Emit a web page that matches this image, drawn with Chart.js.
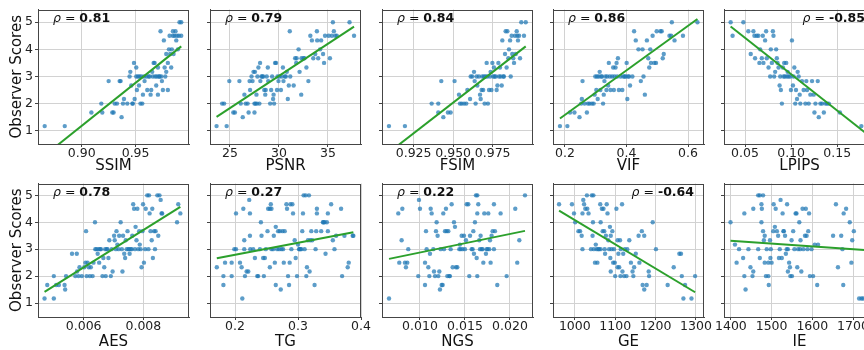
<!DOCTYPE html>
<html>
<head>
<meta charset="utf-8">
<script src="https://cdn.jsdelivr.net/npm/chart.js@4.4.0/dist/chart.umd.min.js"></script>
<style>
  html, body { margin: 0; padding: 0; background: #fff; overflow: hidden; }
  #wrap { position: relative; width: 864px; height: 350px; overflow: hidden; }
  #wrap canvas { position: absolute; }
</style>
</head>
<body>
<div id="wrap"></div>
<script>
// Observer scores vs. metric, one [metric, score] pair per image
const ssimPts = [[0.8657,1.17],[0.8843,1.17],[0.909,1.67],[0.9182,2],[0.9191,1.67],[0.925,2.83],[0.9284,1.67],[0.9296,1.67],[0.9306,2],[0.9327,2],[0.9352,2.83],[0.9361,2.83],[0.937,1.5],[0.9383,2],[0.9392,2.17],[0.9423,2],[0.9444,3],[0.9451,3.17],[0.946,2.67],[0.9469,2],[0.9475,2],[0.9485,3.5],[0.9491,2.17],[0.9506,3.33],[0.9506,3],[0.9512,2.5],[0.9522,3],[0.9531,2.67],[0.9537,3],[0.9545,2],[0.9552,3],[0.9562,2],[0.9568,2.33],[0.9577,3],[0.9583,2.83],[0.9599,3],[0.9608,2.5],[0.962,3],[0.963,3],[0.9639,2.33],[0.9645,2.5],[0.9654,3.17],[0.966,3],[0.9667,3.5],[0.9676,3.5],[0.9682,3],[0.9691,2.67],[0.9698,3],[0.9707,3.33],[0.9707,2.33],[0.9716,3],[0.9722,3],[0.9731,4.67],[0.9738,3],[0.9744,2.83],[0.9753,2.5],[0.9762,4.33],[0.9769,3.33],[0.9775,3],[0.9784,3.83],[0.9784,3.17],[0.9799,3.5],[0.9799,2.5],[0.9809,4],[0.9815,4.5],[0.9821,3.83],[0.983,3.33],[0.9836,4],[0.9846,4.5],[0.9846,4.67],[0.9852,3.83],[0.9861,4.5],[0.987,4.67],[0.9877,4.33],[0.9883,4.5],[0.9892,4],[0.9901,4.5],[0.9907,5],[0.9923,5],[0.9923,4.5]];
const psnrPts = [[23.63,1.17],[24.66,1.17],[24.2,2],[24.4,2],[24.93,2.83],[25.34,1.67],[25.5,1.67],[25.96,2.83],[26.1,2],[26.3,1.5],[26.47,2.33],[26.6,2],[26.8,2],[26.9,1.67],[27.0,2.83],[27.05,2.5],[27.2,3],[27.3,2.83],[27.4,3.17],[27.5,2],[27.6,2],[27.5,1.67],[27.55,3.17],[27.7,2.33],[27.75,2],[27.8,3],[27.9,3.33],[28.0,2],[28.07,3.5],[28.1,2.83],[28.2,3],[28.3,3],[28.4,3],[28.5,2.5],[28.6,2.33],[28.65,2.5],[28.75,3],[28.86,3.33],[28.9,2.83],[29.1,2],[29.2,2.5],[29.3,3],[29.4,2.17],[29.45,2.33],[29.5,2],[29.6,3.5],[29.7,3.5],[29.8,2.5],[29.85,3],[29.95,2.83],[30.05,3],[30.2,2.5],[30.3,3],[30.4,3.33],[30.46,2.83],[30.6,3],[30.7,3],[30.8,3.17],[30.9,2.17],[31.0,2.67],[31.1,4.67],[31.15,3],[31.5,2.67],[31.65,3.67],[31.76,3.5],[31.8,3.67],[32.0,4],[32.1,3.17],[32.27,2.33],[32.3,3.67],[32.5,3.67],[32.6,3.67],[32.8,3.33],[33.0,2.83],[33.2,4.5],[33.36,4.33],[33.5,3.67],[33.7,3.83],[33.87,4.67],[33.9,4.33],[34.0,3.67],[34.2,4],[34.3,4.33],[34.5,3.83],[34.6,3.5],[34.7,4.5],[35.07,4.5],[35.2,3.67],[35.4,4.5],[35.5,5],[35.6,4.67],[35.75,4.5],[35.9,4.5],[37.2,5],[37.66,4.5]];
const fsimPts = [[0.9094,1.17],[0.9195,1.17],[0.9364,2],[0.9406,2],[0.9406,1.67],[0.9425,2.83],[0.9438,1.5],[0.9467,1.67],[0.9484,1.67],[0.9509,2.83],[0.9537,2.33],[0.9543,2],[0.9554,2],[0.9569,2],[0.9583,2],[0.959,2.5],[0.9607,2.17],[0.9611,3],[0.9621,3],[0.9632,3.17],[0.9636,2.83],[0.9642,2],[0.9648,3],[0.9653,2.67],[0.9663,3],[0.967,2.33],[0.9674,2.17],[0.968,2.5],[0.9684,3],[0.969,2.5],[0.9695,3],[0.9699,2],[0.9705,3],[0.9712,3.5],[0.9716,3],[0.972,2],[0.9727,2.5],[0.9733,3],[0.9737,3.17],[0.9742,2.5],[0.9748,3.5],[0.9754,3],[0.9758,3.33],[0.9762,3],[0.9769,3],[0.9775,2.5],[0.978,2.67],[0.9786,3.5],[0.979,3],[0.9796,3.33],[0.98,3],[0.9807,2.67],[0.9811,4.33],[0.9817,3],[0.9821,3],[0.9828,3.83],[0.9832,4.67],[0.9838,3.33],[0.9843,4.67],[0.9849,3.67],[0.9853,4],[0.986,4.33],[0.9864,3],[0.987,4.5],[0.9874,3.83],[0.988,3.67],[0.9885,3.5],[0.9891,4.5],[0.9896,3.83],[0.9902,4.67],[0.9906,4.5],[0.991,4.33],[0.9917,4.5],[0.9923,3.67],[0.9931,5],[0.9948,4.5],[0.9959,5]];
const vifPts = [[0.1836,1.17],[0.2077,1.17],[0.2164,1.67],[0.2307,1.67],[0.2471,1.5],[0.2526,2],[0.2548,2.17],[0.257,2.83],[0.2636,2],[0.2712,1.67],[0.2745,2],[0.28,2],[0.2877,2],[0.2932,2],[0.2964,2.33],[0.2986,3],[0.3019,2.5],[0.3041,3],[0.3063,2.17],[0.3096,3],[0.3129,3.17],[0.3151,2.5],[0.3173,3],[0.3205,3],[0.3238,2],[0.326,2.33],[0.3282,2.83],[0.3315,3],[0.3348,2.5],[0.337,3],[0.3403,2.67],[0.3425,3.5],[0.3458,3],[0.348,2.5],[0.3534,3],[0.3567,3.33],[0.3589,2.5],[0.3611,3],[0.3644,3.33],[0.3677,3.5],[0.3699,3],[0.3721,3.67],[0.3753,2.5],[0.3808,3],[0.3863,2.5],[0.3896,3],[0.394,3],[0.3973,3],[0.4005,3.5],[0.4027,2.17],[0.4049,3],[0.4082,3],[0.4115,2.67],[0.4192,3],[0.4247,4.67],[0.4301,4.33],[0.4389,4],[0.4466,2.83],[0.4521,4],[0.4553,3],[0.4597,2.33],[0.4663,4.33],[0.4707,3.67],[0.474,3.33],[0.4773,4],[0.4795,3.5],[0.4849,4.5],[0.4904,3.5],[0.4959,3.5],[0.4981,4.67],[0.5101,4.67],[0.5145,4.67],[0.5178,3.67],[0.5211,3.83],[0.5397,4.5],[0.5452,4.5],[0.5474,5],[0.5562,4.33],[0.5836,4.5],[0.6307,5]];
const lpipsPts = [[0.0344,5],[0.0365,4.5],[0.0482,5],[0.0536,4.67],[0.0562,3.83],[0.0591,4.67],[0.0602,4.5],[0.0609,3.67],[0.0627,4.5],[0.0645,4.5],[0.0656,3.5],[0.0664,4],[0.0682,3.67],[0.0693,4.5],[0.07,3.5],[0.0718,4.33],[0.0729,4.67],[0.0736,3.67],[0.0755,3.33],[0.0773,3],[0.078,4],[0.0791,3.5],[0.0802,4.67],[0.0809,4.5],[0.0816,3],[0.0827,3.17],[0.0838,4],[0.0845,3.67],[0.0853,3.5],[0.0864,3.33],[0.0875,2.67],[0.0882,3],[0.0889,2.5],[0.09,2],[0.0911,3.33],[0.0918,3],[0.0925,3.5],[0.0933,3],[0.0947,3.5],[0.0955,3],[0.0962,3.17],[0.0973,3],[0.0991,3],[0.0998,2.5],[0.1009,4.33],[0.102,2.67],[0.1027,3],[0.1035,3.33],[0.1045,2],[0.1053,2.5],[0.1064,2.17],[0.1071,3.17],[0.1082,3],[0.1093,2.33],[0.11,2],[0.1118,2.83],[0.1136,2.5],[0.1155,2],[0.1165,2.83],[0.1173,2.5],[0.1191,2],[0.1209,2.33],[0.1227,2.83],[0.1245,2.33],[0.1253,1.67],[0.1264,2],[0.1289,2.83],[0.13,1.5],[0.1318,2],[0.1336,2],[0.1355,1.67],[0.1373,2],[0.1391,2],[0.1409,2],[0.1529,1.67],[0.1762,1.17],[0.1836,1.17]];
const aesPts = [[0.004689,1.17],[0.00478,1.67],[0.0050,2],[0.0050,1.17],[0.00508,1.67],[0.00517,1.67],[0.00536,1.67],[0.00538,1.5],[0.00541,2],[0.00561,2.83],[0.00572,2],[0.00577,2.83],[0.00578,2.17],[0.00583,2],[0.00586,2.33],[0.00594,2],[0.00602,2.33],[0.00606,2.5],[0.00608,3.67],[0.0061,2],[0.00613,2.5],[0.00617,2.33],[0.00621,2],[0.00624,2.33],[0.0063,2],[0.00633,2.5],[0.00638,4],[0.00639,3],[0.00643,3],[0.00647,2.83],[0.0065,3],[0.00652,2.5],[0.00655,3],[0.00658,3],[0.00663,2],[0.00666,2.67],[0.00669,2.33],[0.00672,3],[0.00674,2],[0.00677,3],[0.0068,3],[0.00683,2.67],[0.00686,3.33],[0.00691,2],[0.00694,3],[0.00697,2.17],[0.00702,3.5],[0.00704,3.33],[0.00708,3],[0.0071,3.67],[0.00713,3.17],[0.00717,3],[0.00719,3.5],[0.00724,4],[0.00728,3],[0.0073,2.17],[0.00732,3.5],[0.00736,2.83],[0.00739,2.67],[0.00741,3.33],[0.00744,3],[0.00747,3.67],[0.0075,3],[0.00752,3],[0.00754,2.83],[0.00758,3],[0.00761,3],[0.00763,3.5],[0.00766,4.67],[0.00769,4.5],[0.00772,3],[0.00774,3.83],[0.00777,3.33],[0.0078,4.5],[0.00783,3],[0.00786,3.67],[0.00788,3.17],[0.00791,3],[0.00794,2.33],[0.00797,3.67],[0.00799,4.67],[0.00802,2.5],[0.00806,3],[0.00808,4.5],[0.00813,5],[0.00817,3],[0.00819,5],[0.00821,4.33],[0.00824,3.67],[0.00828,3.33],[0.0083,4.5],[0.00832,2.67],[0.00836,3.67],[0.00839,3],[0.00841,3.67],[0.00847,5],[0.0085,3.5],[0.00854,5],[0.00858,4.83],[0.00861,4.33],[0.00863,4.33],[0.00913,4],[0.00917,4.67],[0.00924,4.33]];
const tgPts = [[0.1711,2.33],[0.1816,2],[0.1816,1.67],[0.1842,2.5],[0.1947,2.5],[0.1947,2],[0.1989,3],[0.2016,3],[0.2016,4.33],[0.2079,2.5],[0.2105,2.33],[0.2116,1.17],[0.2132,4.5],[0.2147,3],[0.2147,3.33],[0.2158,2],[0.2184,2.17],[0.2211,2.17],[0.2226,4.83],[0.2237,4.33],[0.2237,3.5],[0.2242,3],[0.2289,3],[0.2316,2.67],[0.2353,2],[0.2368,2],[0.2395,3],[0.2411,4],[0.2421,3.5],[0.2447,2.67],[0.2458,2],[0.2474,2.67],[0.2489,3],[0.2516,3.67],[0.2526,4.5],[0.2553,2.33],[0.2553,4.5],[0.2568,4.67],[0.2579,4.5],[0.2579,3],[0.2605,3],[0.2616,3.5],[0.2632,2.5],[0.2647,3.83],[0.2647,1.67],[0.2668,3],[0.2684,3.67],[0.27,3],[0.2711,3.67],[0.2726,1.5],[0.2737,3],[0.2753,3.67],[0.2763,3],[0.2774,2.5],[0.2789,3.67],[0.2816,4.67],[0.2826,4.5],[0.2842,2],[0.2858,1.67],[0.2868,2.5],[0.2879,4.67],[0.2895,3],[0.2911,4.67],[0.2921,4.33],[0.2947,3.33],[0.2963,2.67],[0.2984,2],[0.3,3.17],[0.3016,3],[0.3026,3],[0.3037,3],[0.3053,3],[0.3068,3.67],[0.3079,4.33],[0.3089,5],[0.3105,3],[0.3121,5],[0.3132,2],[0.3142,2.33],[0.3158,3.33],[0.3174,5],[0.3184,2.17],[0.3195,3.33],[0.3211,3.67],[0.3226,3.33],[0.3263,1.67],[0.3279,3],[0.3289,3.67],[0.33,4.5],[0.33,4.33],[0.3368,3.67],[0.3395,4],[0.3405,4],[0.3421,4],[0.3437,2.83],[0.3458,4],[0.3474,4.33],[0.3474,3.67],[0.3526,4.67],[0.3553,3.33],[0.3579,3],[0.3605,3.5],[0.3684,4.5],[0.37,2],[0.3737,3.5],[0.3789,2.33],[0.3805,2.5],[0.3868,3.5],[0.3879,3.5]];
const ngsPts = [[0.00656,1.17],[0.00759,4.33],[0.0077,2.5],[0.00796,3.33],[0.00804,4.5],[0.00833,2.5],[0.00844,2.33],[0.00859,2.5],[0.0087,3],[0.00981,2],[0.00989,4.83],[0.01,4.5],[0.01056,1.67],[0.01056,2.5],[0.01067,3.67],[0.01074,3],[0.01093,2.33],[0.01104,2],[0.01111,2.83],[0.01119,4.5],[0.0113,4.33],[0.01148,3],[0.01156,2.17],[0.01167,2],[0.01178,3.67],[0.01185,4],[0.01196,3.5],[0.01204,2],[0.01215,2.17],[0.01222,1.5],[0.0123,3],[0.01241,1.67],[0.01252,1.67],[0.01259,4.33],[0.01267,3],[0.01278,3.67],[0.01289,4.5],[0.01296,3.67],[0.01304,2],[0.01315,3.67],[0.01326,2],[0.01333,2],[0.01341,3],[0.01352,4.67],[0.01363,2.33],[0.01378,4],[0.01389,3.83],[0.014,2.33],[0.01415,2.33],[0.01437,3],[0.01444,3.17],[0.01452,3],[0.01463,3.5],[0.01474,3],[0.01489,3.5],[0.015,3],[0.01511,3.33],[0.01519,4.67],[0.01537,4.67],[0.01548,2],[0.01556,3.5],[0.01574,3],[0.01585,3],[0.01593,3.67],[0.016,2.83],[0.01611,4],[0.01622,5],[0.0163,2.67],[0.01637,5],[0.01637,4.33],[0.01637,2],[0.01648,4.67],[0.01659,3.33],[0.01667,3],[0.01674,3.5],[0.01685,3],[0.01696,3],[0.01704,2.5],[0.01715,4.33],[0.01733,2.83],[0.01741,3],[0.01752,3],[0.01759,4.33],[0.0177,3],[0.01778,3.33],[0.01785,2.5],[0.01796,3.5],[0.01807,3.67],[0.01822,4.67],[0.01833,3.67],[0.01822,3],[0.01859,1.67],[0.01896,4.33],[0.01963,2],[0.02059,4.5],[0.02081,2.5],[0.02104,3.33],[0.02167,5]];
const gePts = [[961,4.67],[993,4.67],[998,4.33],[1001,4],[1009,3.67],[1013,3.67],[1017,3.5],[1019,4.33],[1019,3],[1021,4.83],[1023,4.67],[1026,4.5],[1030,5],[1031,4.5],[1034,4.33],[1040,3],[1042,5],[1044,3.5],[1045,4],[1046,5],[1047,3],[1050,2.5],[1052,3.17],[1054,3],[1056,2.5],[1058,3],[1060,3],[1063,4.67],[1064,3],[1064,4],[1067,4.5],[1069,3.67],[1071,4.5],[1073,3.67],[1074,3],[1075,2.83],[1077,3.5],[1079,4.67],[1081,4.33],[1083,3.33],[1085,3],[1087,3.83],[1088,2.67],[1089,3.5],[1089,2.17],[1091,3],[1093,3.67],[1095,2.5],[1097,3],[1099,2.5],[1100,2],[1103,4.5],[1106,3.33],[1106,2.33],[1108,2.83],[1110,2.33],[1112,3.33],[1113,2],[1114,3],[1117,4.67],[1118,2.17],[1120,2.83],[1122,2],[1124,3],[1128,2],[1130,3],[1135,3.33],[1139,2.5],[1143,2.17],[1145,2],[1147,2.33],[1151,2.83],[1158,3.5],[1160,2.5],[1166,3.67],[1168,1.67],[1172,3.5],[1172,1.5],[1178,1.67],[1183,2.17],[1184,2],[1193,4],[1201,3],[1230,1.67],[1245,2.33],[1259,2.83],[1263,2.83],[1265,2],[1269,1.17],[1273,1.67],[1289,1.17],[1298,2]];
const iePts = [[1399,4],[1410,3.17],[1414,2.5],[1420,3],[1430,2.67],[1433,4.33],[1433,2],[1436,1.5],[1443,3],[1448,2.33],[1453,2],[1455,2.17],[1455,4.5],[1467,5],[1471,5],[1479,5],[1467,3],[1471,2.67],[1475,4],[1475,4.67],[1476,4.5],[1479,3.67],[1481,3.33],[1483,3.5],[1483,2.5],[1486,2],[1488,3],[1492,2.5],[1492,2],[1493,1.67],[1496,3.33],[1497,2.67],[1498,3],[1500,2.5],[1504,3.67],[1505,4.67],[1508,3.83],[1510,4.5],[1513,3.67],[1516,3.5],[1518,2.67],[1520,3],[1522,4.83],[1525,2.67],[1527,4.33],[1529,3.67],[1530,3.67],[1533,3.5],[1535,2.83],[1537,3],[1538,4.67],[1540,3],[1540,2.17],[1543,2.5],[1545,2.33],[1546,2],[1549,3.33],[1550,2],[1553,3.67],[1556,3],[1559,4.33],[1561,4.33],[1563,2.33],[1565,3],[1568,4],[1570,3],[1571,3.33],[1573,2.17],[1576,4.5],[1578,3],[1582,3.5],[1584,4.5],[1586,3.5],[1588,3],[1590,3.67],[1592,4.33],[1594,2],[1598,3],[1602,2],[1606,3.17],[1612,1.67],[1614,3.17],[1651,3.5],[1658,4.67],[1663,2.33],[1671,3.5],[1674,3],[1676,1.67],[1677,4.33],[1683,4.5],[1692,4],[1696,2.5],[1698,3.33],[1702,3.67],[1715,1.17],[1721,1.17],[1725,1.17]];

// end points of each fitted regression line
const ssimFit = [[0.8657,0.09],[0.9923,4.11]];
const psnrFit = [[23.63,1.51],[37.66,4.84]];
const fsimFit = [[0.9094,0.20],[0.9959,4.11]];
const vifFit = [[0.1836,1.45],[0.6307,5.12]];
const lpipsFit = [[0.0344,4.84],[0.1836,0.84]];
const aesFit = [[0.004689,1.41],[0.00924,4.57]];
const tgFit = [[0.1711,2.66],[0.3879,3.63]];
const ngsFit = [[0.00656,2.64],[0.02167,3.68]];
const geFit = [[961,4.43],[1298,1.40]];
const ieFit = [[1399,3.31],[1737,2.96]];

// tick labels
const ssimTicks = ['0.90','0.95'];
const psnrTicks = ['25','30','35'];
const fsimTicks = ['0.925','0.950','0.975'];
const vifTicks = ['0.2','0.4','0.6'];
const lpipsTicks = ['0.05','0.10','0.15'];
const aesTicks = ['0.006','0.008'];
const tgTicks = ['0.2','0.3','0.4'];
const ngsTicks = ['0.010','0.015','0.020'];
const geTicks = ['1000','1100','1200','1300'];
const ieTicks = ['1400','1500','1600','1700'];
const scoreTicks = ['1','2','3','4','5'];

const metricNames = ['SSIM','PSNR','FSIM','VIF','LPIPS','AES','TG','NGS','GE','IE'];
// IE has no label inside the visible part of the figure
const rhoValues = ['0.81','0.79','0.84','0.86','-0.85','0.78','0.27','0.22','-0.64',null];

Chart.defaults.font.family = '"DejaVu Sans", sans-serif';
Chart.defaults.color = '#222';

const colLeft = [38, 210, 382, 553, 724];
const rowTop = [9, 183];
const rowH = [135, 134];
const rowBelow = [31, 34];
const rowY = [[0.51, 5.47], [0.48, 5.44]];
const plotW = 151;

const panels = [
  { pts: ssimPts, fit: ssimFit, ticks: ssimTicks, min: 0.8595, max: 0.9995 },
  { pts: psnrPts, fit: psnrFit, ticks: psnrTicks, min: 22.96, max: 38.37 },
  { pts: fsimPts, fit: fsimFit, ticks: fsimTicks, min: 0.905, max: 1.0005 },
  { pts: vifPts, fit: vifFit, ticks: vifTicks, min: 0.161, max: 0.652 },
  { pts: lpipsPts, fit: lpipsFit, ticks: lpipsTicks, min: 0.0272, max: 0.191 },
  { pts: aesPts, fit: aesFit, ticks: aesTicks, min: 0.00447, max: 0.00953 },
  { pts: tgPts, fit: tgFit, ticks: tgTicks, min: 0.1603, max: 0.4 },
  { pts: ngsPts, fit: ngsFit, ticks: ngsTicks, min: 0.00578, max: 0.02256 },
  { pts: gePts, fit: geFit, ticks: geTicks, min: 946, max: 1320 },
  { pts: iePts, fit: ieFit, ticks: ieTicks, min: 1383, max: 1754 }
];

// frame round the plot area
const frame = {
  id: 'frame',
  afterDraw(chart) {
    const a = chart.chartArea, ctx = chart.ctx;
    ctx.save();
    ctx.strokeStyle = '#454545';
    ctx.lineWidth = 1;
    ctx.strokeRect(Math.round(a.left) + 0.5, Math.round(a.top) + 0.5,
                   Math.round(a.right - a.left) - 1, Math.round(a.bottom - a.top) - 1);
    ctx.restore();
  }
};

// "ρ = value" label in a corner of the plot
const rhoLabel = {
  id: 'rhoLabel',
  afterDraw(chart, args, opts) {
    if (!opts.value) return;
    const a = chart.chartArea, ctx = chart.ctx;
    const parts = [
      { t: 'ρ', f: 'italic 12.5px "DejaVu Sans"' },
      { t: ' = ', f: '12.5px "DejaVu Sans"' },
      { t: opts.value, f: 'bold 12.5px "DejaVu Sans"' }
    ];
    ctx.save();
    let total = 0;
    parts.forEach(p => { ctx.font = p.f; p.w = ctx.measureText(p.t).width; total += p.w; });
    let x = opts.right ? a.right - 10 - total : a.left + 15;
    const y = a.top + 12;
    ctx.fillStyle = '#111';
    ctx.textBaseline = 'alphabetic';
    parts.forEach(p => { ctx.font = p.f; ctx.fillText(p.t, x, y); x += p.w; });
    ctx.restore();
  }
};

const wrap = document.getElementById('wrap');

panels.forEach((p, i) => {
  const row = Math.floor(i / 5), col = i % 5;
  const canvas = document.createElement('canvas');
  const w = 38 + plotW + 22;
  const h = 9 + rowH[row] + rowBelow[row];
  canvas.width = w;
  canvas.height = h;
  canvas.style.left = (colLeft[col] - 38) + 'px';
  canvas.style.top = (rowTop[row] - 9) + 'px';
  canvas.style.width = w + 'px';
  canvas.style.height = h + 'px';
  wrap.appendChild(canvas);

  const rho = rhoValues[i];

  new Chart(canvas, {
    type: 'scatter',
    data: {
      datasets: [
        {
          type: 'line',
          data: p.fit.map(d => ({ x: d[0], y: d[1] })),
          borderColor: '#2ca02c',
          borderWidth: 2,
          pointRadius: 0,
          fill: false,
          clip: 0
        },
        {
          data: p.pts.map(d => ({ x: d[0], y: d[1] })),
          backgroundColor: 'rgba(31,119,180,0.72)',
          borderWidth: 0,
          pointRadius: 2.2,
          pointHoverRadius: 2.2
        }
      ]
    },
    options: {
      responsive: false,
      animation: false,
      devicePixelRatio: 1,
      layout: { padding: { left: 0, top: 9, right: 22, bottom: 0 } },
      plugins: {
        legend: { display: false },
        tooltip: { enabled: false },
        rhoLabel: { value: rho, right: !!rho && rho.charAt(0) === '-' }
      },
      scales: {
        x: {
          type: 'linear',
          min: p.min,
          max: p.max,
          afterBuildTicks: s => { s.ticks = p.ticks.map(t => ({ value: parseFloat(t) })); },
          afterFit: s => { s.height = rowBelow[row]; },
          ticks: {
            callback: (v, k) => p.ticks[k],
            font: { size: 12.5 },
            color: '#222',
            padding: -1,
            maxRotation: 0,
            autoSkip: false
          },
          grid: { color: '#d2d2d2', lineWidth: 1, tickColor: '#444', tickLength: 3 },
          border: { color: '#454545' },
          title: {
            display: true,
            text: metricNames[i],
            font: { size: 15 },
            color: '#111',
            padding: { top: 0, bottom: 0 }
          }
        },
        y: {
          type: 'linear',
          min: rowY[row][0],
          max: rowY[row][1],
          afterBuildTicks: s => { s.ticks = scoreTicks.map(t => ({ value: parseFloat(t) })); },
          afterFit: s => { s.width = 38; },
          ticks: {
            callback: (v, k) => col === 0 ? scoreTicks[k] : '',
            font: { size: 12.5 },
            color: '#222',
            padding: 2
          },
          grid: { color: '#d2d2d2', lineWidth: 1, tickColor: '#444', tickLength: 3 },
          border: { color: '#454545' },
          title: {
            display: col === 0,
            text: 'Observer Scores',
            font: { size: 15 },
            color: '#111',
            padding: { top: 8, bottom: 0 }
          }
        }
      }
    },
    plugins: [frame, rhoLabel]
  });
});
</script>
</body>
</html>
